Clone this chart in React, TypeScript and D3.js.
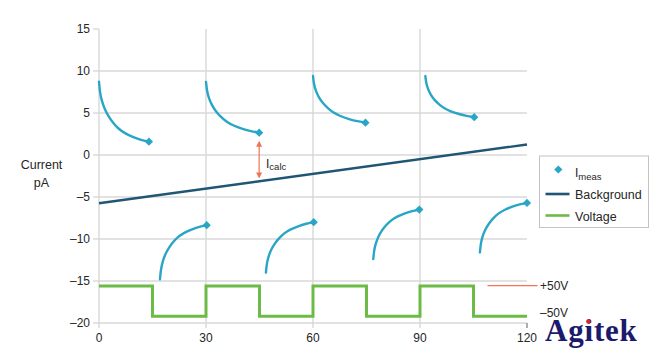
import React from "react";
import * as d3 from "d3";

const xTicks = [0, 30, 60, 90, 120];
const yTicks = [15, 10, 5, 0, -5, -10, -15, -20];
const yGrid = [10, 5, 0, -5, -10, -15, -20];
const xGrid = [0, 30, 60, 90];

const voltageTimes = [0, 15, 30, 45, 60, 75, 90, 105, 120];
const voltageValues = [-15.6, -19.2, -15.6, -19.2, -15.6, -19.2, -15.6, -19.2, -19.2];

const backgroundTimes = [0, 120];
const backgroundValues = [-5.75, 1.25];

const seg1T = [0, 0.25, 0.7, 1.55, 2.7, 3.95, 5.3, 7.2, 9.7, 11.8, 14];
const seg1V = [8.73, 7.5, 6.55, 5.48, 4.56, 3.81, 3.18, 2.58, 2.1, 1.78, 1.58];
const seg2T = [30, 30.27, 30.75, 31.64, 32.88, 34.2, 35.65, 37.66, 40.33, 42.56, 44.9];
const seg2V = [8.7, 7.61, 6.82, 5.92, 5.13, 4.53, 3.98, 3.5, 3.1, 2.83, 2.65];
const seg3T = [60, 60.26, 60.74, 61.62, 62.84, 64.15, 65.57, 67.56, 70.19, 72.39, 74.7];
const seg3V = [9.4, 8.4, 7.68, 6.85, 6.13, 5.57, 5.07, 4.63, 4.26, 4.01, 3.85];
const seg4T = [91.5, 91.75, 92.19, 93.01, 94.14, 95.36, 96.69, 98.54, 100.99, 103.05, 105.2];
const seg4V = [9.4, 8.52, 7.88, 7.15, 6.51, 6.02, 5.58, 5.19, 4.86, 4.64, 4.5];
const seg5T = [17.1, 17.34, 17.76, 18.54, 19.63, 20.79, 22.06, 23.83, 26.18, 28.14, 30.2];
const seg5V = [-14.8, -13.64, -12.8, -11.83, -10.99, -10.35, -9.77, -9.25, -8.83, -8.54, -8.35];
const seg6T = [46.8, 47.04, 47.47, 48.27, 49.39, 50.58, 51.88, 53.69, 56.09, 58.1, 60.2];
const seg6V = [-14, -12.92, -12.14, -11.24, -10.46, -9.86, -9.32, -8.84, -8.44, -8.17, -8.0];
const seg7T = [76.9, 77.13, 77.55, 78.32, 79.39, 80.54, 81.79, 83.53, 85.84, 87.77, 89.8];
const seg7V = [-12.4, -11.34, -10.57, -9.69, -8.92, -8.33, -7.8, -7.33, -6.94, -6.67, -6.5];
const seg8T = [106.8, 107.04, 107.46, 108.25, 109.35, 110.52, 111.8, 113.58, 115.95, 117.93, 120];
const seg8V = [-11.6, -10.54, -9.77, -8.89, -8.12, -7.53, -7.0, -6.53, -6.14, -5.87, -5.7];

const measTimes = [seg1T, seg2T, seg3T, seg4T, seg5T, seg6T, seg7T, seg8T];
const measValues = [seg1V, seg2V, seg3V, seg4V, seg5V, seg6V, seg7V, seg8V];

const icalcTime = 44.9;
const icalcTop = 1.7;
const icalcBottom = -2.8;

const legendLabels = ["Background", "Voltage"];

export default function App() {
  const x = d3.scaleLinear().domain([0, 120]).range([99, 527]);
  const y = d3.scaleLinear().domain([-20, 15]).range([323, 29]);

  const teal = "#29a6c6";
  const navy = "#1f5675";
  const green = "#6cbb47";
  const orange = "#ee7455";
  const grid = "#d8d8d8";
  const txt = "#262626";
  const font = "Liberation Sans, Arial, sans-serif";

  const measLine = d3
    .line<[number, number]>()
    .x((d) => x(d[0]))
    .y((d) => y(d[1]))
    .curve(d3.curveBasis);

  const voltLine = d3
    .line<number>()
    .x((_, i) => x(voltageTimes[i]))
    .y((d) => y(d))
    .curve(d3.curveStepAfter);

  const bgLine = d3
    .line<number>()
    .x((_, i) => x(backgroundTimes[i]))
    .y((d) => y(d));

  const diamond = d3.symbol(d3.symbolSquare, 34)()!;

  const ax = x(icalcTime);
  const ay1 = y(icalcTop);
  const ay2 = y(icalcBottom);

  return (
    <svg
      width={669}
      height={352}
      style={{ position: "absolute", left: 0, top: 0, background: "#fff" }}
      fontFamily={font}
    >
      {yGrid.map((v) => (
        <line key={"hg" + v} x1={x(0)} x2={x(120)} y1={y(v)} y2={y(v)} stroke={grid} strokeWidth={1.4} />
      ))}
      {xGrid.map((v) => (
        <line key={"vg" + v} x1={x(v)} x2={x(v)} y1={y(15)} y2={y(-20) + 5} stroke={grid} strokeWidth={1.4} />
      ))}
      <line x1={x(120)} x2={x(120)} y1={y(-20)} y2={y(-20) + 5} stroke="#777" strokeWidth={1.2} />
      {yTicks.map((v) => (
        <g key={"yt" + v}>
          <line x1={x(0) - 6} x2={x(0)} y1={y(v)} y2={y(v)} stroke={grid} strokeWidth={1.4} />
          <text x={x(0) - 9} y={y(v)} dy="0.36em" textAnchor="end" fontSize={12} fill={txt}>
            {v < 0 ? "\u2013" + Math.abs(v) : v}
          </text>
        </g>
      ))}
      {xTicks.map((v) => (
        <text key={"xt" + v} x={x(v)} y={342} textAnchor="middle" fontSize={12} fill={txt}>
          {v}
        </text>
      ))}
      <text x={41.5} y={169} textAnchor="middle" fontSize={12.5} fill={txt}>Current</text>
      <text x={41.5} y={187} textAnchor="middle" fontSize={12.5} fill={txt}>pA</text>

      <path d={voltLine(voltageValues)!} fill="none" stroke={green} strokeWidth={3} />
      <path d={bgLine(backgroundValues)!} fill="none" stroke={navy} strokeWidth={2.4} />

      {measTimes.map((ts, i) => {
        const pts: [number, number][] = ts.map((t, j) => [t, measValues[i][j]]);
        const last = pts[pts.length - 1];
        return (
          <g key={"m" + i}>
            <path d={measLine(pts)!} fill="none" stroke={teal} strokeWidth={2.4} strokeLinecap="round" />
            <path d={diamond} transform={`translate(${x(last[0])},${y(last[1])}) rotate(45)`} fill={teal} />
          </g>
        );
      })}

      <line x1={ax} x2={ax} y1={ay1 + 4} y2={ay2 - 4} stroke={orange} strokeWidth={1.2} />
      <path d={`M${ax},${ay1} l-3,6 l6,0 z`} fill={orange} />
      <path d={`M${ax},${ay2} l-3,-6 l6,0 z`} fill={orange} />
      <text x={266} y={168} fontSize={12} fill={txt}>
        I<tspan fontSize={9.5} dy={2}>calc</tspan>
      </text>

      <rect x={539.5} y={156} width={109} height={71.5} fill="#fff" stroke="#c4c4c4" strokeWidth={1} />
      <path d={diamond} transform="translate(558.3,169.5) rotate(45)" fill={teal} />
      <text x={575} y={177} fontSize={12} fill={txt}>
        I<tspan fontSize={9.5} dy={2.5}>meas</tspan>
      </text>
      <line x1={545.5} x2={569.5} y1={194} y2={194} stroke={navy} strokeWidth={2.6} />
      <text x={575} y={199} fontSize={12.5} fill={txt}>{legendLabels[0]}</text>
      <line x1={545.5} x2={569.5} y1={215.5} y2={215.5} stroke={green} strokeWidth={2.6} />
      <text x={575} y={220.5} fontSize={12.5} fill={txt}>{legendLabels[1]}</text>

      <line x1={487.5} x2={537.5} y1={285.7} y2={285.7} stroke={orange} strokeWidth={1.2} />
      <text x={540} y={290} fontSize={12} fill={txt}>+50V</text>
      <text x={540} y={317} fontSize={12} fill={txt}>{"\u201350V"}</text>

      <text x={545} y={341} fontSize={31} fontWeight="bold" fontFamily="Liberation Serif, Times New Roman, serif" fill="#1c1a6b" letterSpacing={0.8}>
        Agitek
      </text>
      <circle cx={588.5} cy={321.5} r={2.2} fill="#e0202a" />
    </svg>
  );
}
